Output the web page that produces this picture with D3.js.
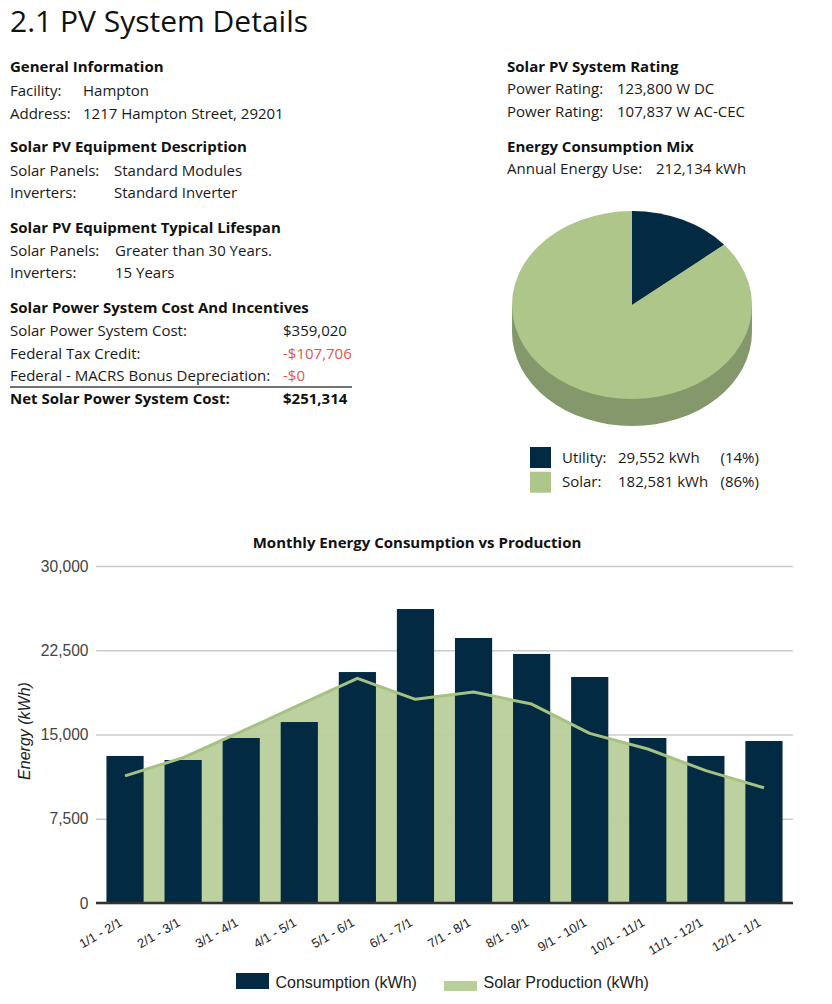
<!DOCTYPE html>
<html>
<head>
<meta charset="utf-8">
<script src="https://cdn.jsdelivr.net/npm/d3@7"></script>
<style>
  html, body { margin: 0; padding: 0; background: #fff; }
  svg { display: block; }
</style>
</head>
<body>
<svg id="page" width="832" height="1004"></svg>
<script>
// ---------- DATA ----------
const months = ["1/1 - 2/1","2/1 - 3/1","3/1 - 4/1","4/1 - 5/1","5/1 - 6/1","6/1 - 7/1",
                "7/1 - 8/1","8/1 - 9/1","9/1 - 10/1","10/1 - 11/1","11/1 - 12/1","12/1 - 1/1"];
const consumption = [13090, 12730, 14690, 16110, 20560, 26170, 23590, 22170, 20120, 14690, 13090, 14420];
const solarProduction = [11320, 12940, 15250, 17630, 20000, 18130, 18780, 17710, 15100, 13710, 11780, 10260];
const yTicks = [0, 7500, 15000, 22500, 30000];

const mixLabels = ["Utility:", "Solar:"];
const mixValues = [29552, 182581];
const mixPercents = ["(14%)", "(86%)"];

const generalInfo = [["Facility:", "Hampton"], ["Address:", "1217 Hampton Street, 29201"]];
const equipment = [["Solar Panels:", "Standard Modules"], ["Inverters:", "Standard Inverter"]];
const lifespan = [["Solar Panels:", "Greater than 30 Years."], ["Inverters:", "15 Years"]];
const costs = [["Solar Power System Cost:", "$359,020"], ["Federal Tax Credit:", "-$107,706"],
               ["Federal - MACRS Bonus Depreciation:", "-$0"]];
const netCost = ["Net Solar Power System Cost:", "$251,314"];
const rating = [["Power Rating:", "123,800 W DC"], ["Power Rating:", "107,837 W AC-CEC"]];
const annualUse = ["Annual Energy Use:", "212,134 kWh"];

// ---------- STYLE ----------
const NAVY = "#022a43", GREEN = "#afc68b", GREEN_SIDE = "#84986b";
const AREA = "#b9cf9b", LINE = "#a5c283", RED = "#e0584a";
const OS = "'Open Sans', sans-serif", AR = "'Liberation Sans', Arial, sans-serif";

const svg = d3.select("#page");

// ---------- TEXT BLOCKS ----------
svg.append("text").attr("x", 10).attr("y", 32).attr("font-family", OS)
  .attr("font-size", 30).attr("fill", "#111").text("2.1 PV System Details");

function heading(xp, yp, t) {
  svg.append("text").attr("x", xp).attr("y", yp).attr("font-family", OS)
    .attr("font-size", 15).attr("font-weight", 700).attr("fill", "#111").text(t);
}
function rows(xp, vx, y0, dy, data, colors) {
  data.forEach((r, i) => {
    svg.append("text").attr("x", xp).attr("y", y0 + i * dy).attr("font-family", OS)
      .attr("font-size", 15).attr("fill", "#1a1a1a").text(r[0]);
    svg.append("text").attr("x", vx).attr("y", y0 + i * dy).attr("font-family", OS)
      .attr("font-size", 15).attr("fill", colors ? colors[i] : "#1a1a1a").text(r[1]);
  });
}
heading(10, 72, "General Information");
rows(10, 83, 96, 22.5, generalInfo);
heading(10, 152, "Solar PV Equipment Description");
rows(10, 114, 176, 22, equipment);
heading(10, 233, "Solar PV Equipment Typical Lifespan");
rows(10, 115, 256, 22, lifespan);
heading(10, 313, "Solar Power System Cost And Incentives");
rows(10, 283, 336, 22.5, costs, ["#1a1a1a", RED, RED]);
svg.append("line").attr("x1", 10).attr("x2", 352).attr("y1", 387).attr("y2", 387)
  .attr("stroke", "#444").attr("stroke-width", 1.6);
svg.append("text").attr("x", 10).attr("y", 404).attr("font-family", OS).attr("font-size", 15)
  .attr("font-weight", 700).attr("fill", "#111").text(netCost[0]);
svg.append("text").attr("x", 283).attr("y", 404).attr("font-family", OS).attr("font-size", 15)
  .attr("font-weight", 700).attr("fill", "#111").text(netCost[1]);

heading(507, 72, "Solar PV System Rating");
rows(507, 617, 94, 22.5, rating);
heading(507, 152, "Energy Consumption Mix");
rows(507, 656, 174, 22, [annualUse]);

// ---------- 3D PIE ----------
const pcx = 632, pcy = 305, prx = 120, pry = 94, depth = 27;
const pieData = d3.pie().sort(null).value(d => d)(mixValues);
const arcGen = d3.arc().innerRadius(0).outerRadius(prx);
const pieG = svg.append("g");
const sideG = pieG.append("g").attr("transform", `translate(${pcx},${pcy + depth}) scale(1,${pry / prx})`);
sideG.append("path").attr("d", arcGen({ startAngle: 0, endAngle: 2 * Math.PI })).attr("fill", GREEN_SIDE);
pieG.append("rect").attr("x", pcx - prx).attr("y", pcy).attr("width", 2 * prx).attr("height", depth)
  .attr("fill", GREEN_SIDE);
const faceG = pieG.append("g").attr("transform", `translate(${pcx},${pcy}) scale(1,${pry / prx})`);
faceG.selectAll("path").data(pieData).join("path")
  .attr("d", arcGen).attr("fill", (d, i) => i === 0 ? NAVY : GREEN);

// pie legend
const fmt = d3.format(",");
mixLabels.forEach((lab, i) => {
  const yy = 462.5 + i * 24.7;
  svg.append("rect").attr("x", 530).attr("y", yy - 15.5).attr("width", 21).attr("height", 21)
    .attr("fill", i === 0 ? NAVY : GREEN);
  svg.append("text").attr("x", 562).attr("y", yy).attr("font-family", OS).attr("font-size", 15)
    .attr("fill", "#1a1a1a").text(lab);
  svg.append("text").attr("x", 618).attr("y", yy).attr("font-family", OS).attr("font-size", 15)
    .attr("fill", "#1a1a1a").text(fmt(mixValues[i]) + " kWh");
  svg.append("text").attr("x", 720.5).attr("y", yy).attr("font-family", OS).attr("font-size", 15)
    .attr("fill", "#1a1a1a").text(mixPercents[i]);
});

// ---------- COMBO CHART ----------
const x0 = 96, x1 = 793, yBase = 903, yTop = 566;
const x = d3.scaleBand().domain(months).range([x0, x1]).paddingInner(0.36).paddingOuter(0.18);
const y = d3.scaleLinear().domain([0, 30000]).range([yBase, yTop]);
const cxOf = m => x(m) + x.bandwidth() / 2;

svg.append("text").attr("x", 417).attr("y", 548).attr("text-anchor", "middle")
  .attr("font-family", OS).attr("font-size", 15).attr("font-weight", 700).attr("fill", "#111")
  .text("Monthly Energy Consumption vs Production");

const yAxis = d3.axisLeft(y).tickValues(yTicks).tickSize(-(x1 - x0)).tickPadding(8)
  .tickFormat(d3.format(","));
const gy = svg.append("g").attr("transform", `translate(${x0},0)`).call(yAxis);
gy.select(".domain").remove();
gy.selectAll(".tick line").attr("stroke", "#cccccc").attr("stroke-width", 1.6);
gy.selectAll(".tick text").attr("font-family", AR).attr("font-size", 15.6).attr("fill", "#444")
  .attr("x", -7.5);

const area = d3.area().x((d, i) => cxOf(months[i])).y0(y(0)).y1(d => y(d)).curve(d3.curveLinear);
const line = d3.line().x((d, i) => cxOf(months[i])).y(d => y(d)).curve(d3.curveLinear);
svg.append("path").datum(solarProduction).attr("d", area).attr("fill", AREA).attr("fill-opacity", 0.95);

svg.append("g").selectAll("rect").data(consumption).join("rect")
  .attr("x", (d, i) => x(months[i])).attr("width", x.bandwidth())
  .attr("y", d => y(d)).attr("height", d => y(0) - y(d)).attr("fill", NAVY);

svg.append("path").datum(solarProduction).attr("d", line).attr("fill", "none")
  .attr("stroke", LINE).attr("stroke-width", 3).attr("stroke-linejoin", "round");

const xAxis = d3.axisBottom(x).tickSize(0).tickPadding(0);
const gx = svg.append("g").attr("transform", `translate(0,${yBase})`).call(xAxis);
gx.select(".domain").attr("stroke", "#333").attr("stroke-width", 2.5)
  .attr("d", `M${x0},0H${x1}`);
gx.selectAll(".tick text").attr("font-family", AR).attr("font-size", 12.8).attr("fill", "#222")
  .attr("text-anchor", "end").attr("dy", 0).attr("y", 0)
  .attr("transform", `translate(-2,22) rotate(-30)`);

svg.append("text").attr("transform", `translate(29.5,731) rotate(-90)`).attr("text-anchor", "middle")
  .attr("font-family", AR).attr("font-size", 16).attr("font-style", "italic").attr("fill", "#222")
  .text("Energy (kWh)");

svg.append("rect").attr("x", 236).attr("y", 973).attr("width", 33).attr("height", 16).attr("fill", NAVY);
svg.append("text").attr("x", 275.5).attr("y", 988).attr("font-family", AR).attr("font-size", 16)
  .attr("fill", "#222").text("Consumption (kWh)");
svg.append("rect").attr("x", 444).attr("y", 981).attr("width", 33).attr("height", 10).attr("fill", AREA);
svg.append("text").attr("x", 483.5).attr("y", 988).attr("font-family", AR).attr("font-size", 16)
  .attr("fill", "#222").text("Solar Production (kWh)");
</script>
</body>
</html>
